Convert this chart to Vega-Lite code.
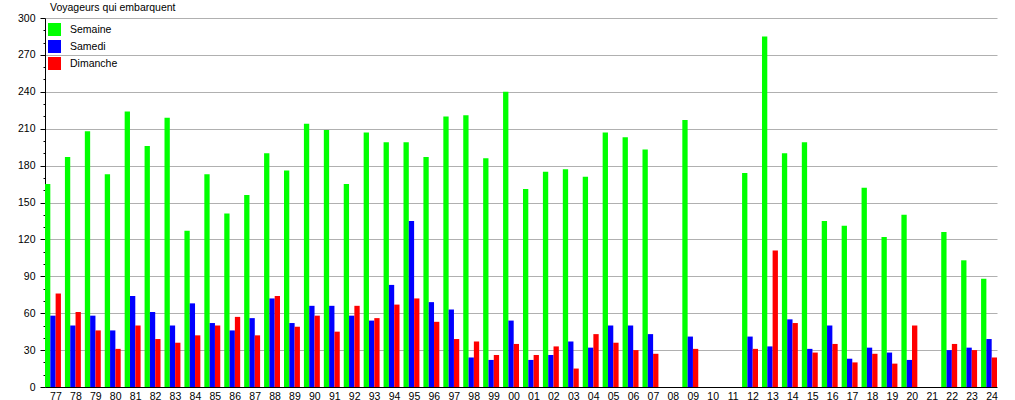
{
  "$schema": "https://vega.github.io/schema/vega-lite/v6.json",
  "width": 952,
  "height": 369,
  "autosize": {"type": "none"},
  "padding": {"left": 45, "top": 18, "right": 18, "bottom": 13},
  "background": "white",
  "title": {"text": "Voyageurs qui embarquent", "anchor": "start", "frame": "group", "fontSize": 10.5, "fontWeight": "normal", "font": "Liberation Sans", "color": "black", "offset": 0, "dx": 5},
  "config": {"view": {"stroke": null}, "font": "Liberation Sans"},
  "data": {"values": [
    {"annee":"77","type":"Semaine","v":165},{"annee":"77","type":"Samedi","v":58},{"annee":"77","type":"Dimanche","v":76},
    {"annee":"78","type":"Semaine","v":187},{"annee":"78","type":"Samedi","v":50},{"annee":"78","type":"Dimanche","v":61},
    {"annee":"79","type":"Semaine","v":208},{"annee":"79","type":"Samedi","v":58},{"annee":"79","type":"Dimanche","v":46},
    {"annee":"80","type":"Semaine","v":173},{"annee":"80","type":"Samedi","v":46},{"annee":"80","type":"Dimanche","v":31},
    {"annee":"81","type":"Semaine","v":224},{"annee":"81","type":"Samedi","v":74},{"annee":"81","type":"Dimanche","v":50},
    {"annee":"82","type":"Semaine","v":196},{"annee":"82","type":"Samedi","v":61},{"annee":"82","type":"Dimanche","v":39},
    {"annee":"83","type":"Semaine","v":219},{"annee":"83","type":"Samedi","v":50},{"annee":"83","type":"Dimanche","v":36},
    {"annee":"84","type":"Semaine","v":127},{"annee":"84","type":"Samedi","v":68},{"annee":"84","type":"Dimanche","v":42},
    {"annee":"85","type":"Semaine","v":173},{"annee":"85","type":"Samedi","v":52},{"annee":"85","type":"Dimanche","v":50},
    {"annee":"86","type":"Semaine","v":141},{"annee":"86","type":"Samedi","v":46},{"annee":"86","type":"Dimanche","v":57},
    {"annee":"87","type":"Semaine","v":156},{"annee":"87","type":"Samedi","v":56},{"annee":"87","type":"Dimanche","v":42},
    {"annee":"88","type":"Semaine","v":190},{"annee":"88","type":"Samedi","v":72},{"annee":"88","type":"Dimanche","v":74},
    {"annee":"89","type":"Semaine","v":176},{"annee":"89","type":"Samedi","v":52},{"annee":"89","type":"Dimanche","v":49},
    {"annee":"90","type":"Semaine","v":214},{"annee":"90","type":"Samedi","v":66},{"annee":"90","type":"Dimanche","v":58},
    {"annee":"91","type":"Semaine","v":209},{"annee":"91","type":"Samedi","v":66},{"annee":"91","type":"Dimanche","v":45},
    {"annee":"92","type":"Semaine","v":165},{"annee":"92","type":"Samedi","v":58},{"annee":"92","type":"Dimanche","v":66},
    {"annee":"93","type":"Semaine","v":207},{"annee":"93","type":"Samedi","v":54},{"annee":"93","type":"Dimanche","v":56},
    {"annee":"94","type":"Semaine","v":199},{"annee":"94","type":"Samedi","v":83},{"annee":"94","type":"Dimanche","v":67},
    {"annee":"95","type":"Semaine","v":199},{"annee":"95","type":"Samedi","v":135},{"annee":"95","type":"Dimanche","v":72},
    {"annee":"96","type":"Semaine","v":187},{"annee":"96","type":"Samedi","v":69},{"annee":"96","type":"Dimanche","v":53},
    {"annee":"97","type":"Semaine","v":220},{"annee":"97","type":"Samedi","v":63},{"annee":"97","type":"Dimanche","v":39},
    {"annee":"98","type":"Semaine","v":221},{"annee":"98","type":"Samedi","v":24},{"annee":"98","type":"Dimanche","v":37},
    {"annee":"99","type":"Semaine","v":186},{"annee":"99","type":"Samedi","v":22},{"annee":"99","type":"Dimanche","v":26},
    {"annee":"00","type":"Semaine","v":240},{"annee":"00","type":"Samedi","v":54},{"annee":"00","type":"Dimanche","v":35},
    {"annee":"01","type":"Semaine","v":161},{"annee":"01","type":"Samedi","v":22},{"annee":"01","type":"Dimanche","v":26},
    {"annee":"02","type":"Semaine","v":175},{"annee":"02","type":"Samedi","v":26},{"annee":"02","type":"Dimanche","v":33},
    {"annee":"03","type":"Semaine","v":177},{"annee":"03","type":"Samedi","v":37},{"annee":"03","type":"Dimanche","v":15},
    {"annee":"04","type":"Semaine","v":171},{"annee":"04","type":"Samedi","v":32},{"annee":"04","type":"Dimanche","v":43},
    {"annee":"05","type":"Semaine","v":207},{"annee":"05","type":"Samedi","v":50},{"annee":"05","type":"Dimanche","v":36},
    {"annee":"06","type":"Semaine","v":203},{"annee":"06","type":"Samedi","v":50},{"annee":"06","type":"Dimanche","v":30},
    {"annee":"07","type":"Semaine","v":193},{"annee":"07","type":"Samedi","v":43},{"annee":"07","type":"Dimanche","v":27},
    {"annee":"09","type":"Semaine","v":217},{"annee":"09","type":"Samedi","v":41},{"annee":"09","type":"Dimanche","v":31},
    {"annee":"12","type":"Semaine","v":174},{"annee":"12","type":"Samedi","v":41},{"annee":"12","type":"Dimanche","v":31},
    {"annee":"13","type":"Semaine","v":285},{"annee":"13","type":"Samedi","v":33},{"annee":"13","type":"Dimanche","v":111},
    {"annee":"14","type":"Semaine","v":190},{"annee":"14","type":"Samedi","v":55},{"annee":"14","type":"Dimanche","v":52},
    {"annee":"15","type":"Semaine","v":199},{"annee":"15","type":"Samedi","v":31},{"annee":"15","type":"Dimanche","v":28},
    {"annee":"16","type":"Semaine","v":135},{"annee":"16","type":"Samedi","v":50},{"annee":"16","type":"Dimanche","v":35},
    {"annee":"17","type":"Semaine","v":131},{"annee":"17","type":"Samedi","v":23},{"annee":"17","type":"Dimanche","v":20},
    {"annee":"18","type":"Semaine","v":162},{"annee":"18","type":"Samedi","v":32},{"annee":"18","type":"Dimanche","v":27},
    {"annee":"19","type":"Semaine","v":122},{"annee":"19","type":"Samedi","v":28},{"annee":"19","type":"Dimanche","v":19},
    {"annee":"20","type":"Semaine","v":140},{"annee":"20","type":"Samedi","v":22},{"annee":"20","type":"Dimanche","v":50},
    {"annee":"22","type":"Semaine","v":126},{"annee":"22","type":"Samedi","v":30},{"annee":"22","type":"Dimanche","v":35},
    {"annee":"23","type":"Semaine","v":103},{"annee":"23","type":"Samedi","v":32},{"annee":"23","type":"Dimanche","v":30},
    {"annee":"24","type":"Semaine","v":88},{"annee":"24","type":"Samedi","v":39},{"annee":"24","type":"Dimanche","v":24}
  ]},
  "mark": {"type": "bar", "strokeWidth": 0},
  "encoding": {
    "x": {
      "field": "annee", "type": "nominal",
      "scale": {"domain": ["77","78","79","80","81","82","83","84","85","86","87","88","89","90","91","92","93","94","95","96","97","98","99","00","01","02","03","04","05","06","07","08","09","10","11","12","13","14","15","16","17","18","19","20","21","22","23","24"], "paddingInner": 0.2, "paddingOuter": 0},
      "axis": {"title": null, "labelAngle": 0, "ticks": false, "domainColor": "black", "domainWidth": 1, "labelPadding": 4, "labelOffset": 3, "labelFontSize": 10.5, "labelColor": "black", "labelFont": "Liberation Sans", "grid": false}
    },
    "xOffset": {"field": "type", "type": "nominal", "scale": {"domain": ["Semaine","Samedi","Dimanche"], "paddingInner": 0, "paddingOuter": 0}},
    "y": {
      "field": "v", "type": "quantitative",
      "scale": {"domain": [0, 300], "nice": false},
      "axis": {
        "title": null,
        "values": [0,10,20,30,40,50,60,70,80,90,100,110,120,130,140,150,160,170,180,190,200,210,220,230,240,250,260,270,280,290,300],
        "labelExpr": "datum.value % 30 == 0 ? datum.label : ''",
        "tickSize": {"condition": {"test": "datum.value % 30 == 0", "value": 5}, "value": 2},
        "tickColor": "black",
        "domainColor": "black",
        "labelPadding": 5,
        "labelFontSize": 10.5,
        "labelColor": "black",
        "labelFont": "Liberation Sans",
        "grid": true,
        "gridColor": "#b0b0b0",
        "gridOpacity": {"condition": {"test": "datum.value % 30 == 0 && datum.value > 0", "value": 1}, "value": 0}
      }
    },
    "color": {
      "field": "type", "type": "nominal",
      "scale": {"domain": ["Semaine","Samedi","Dimanche"], "range": ["#00ff00","#0000ff","#ff0000"]},
      "legend": {"title": null, "orient": "none", "legendX": 3, "legendY": 5, "padding": 0, "symbolType": "square", "symbolSize": 169, "symbolStrokeWidth": 0, "symbolOpacity": 1, "labelFontSize": 10.5, "labelColor": "black", "labelFont": "Liberation Sans", "labelOffset": 9, "rowPadding": 4}
    }
  }
}
